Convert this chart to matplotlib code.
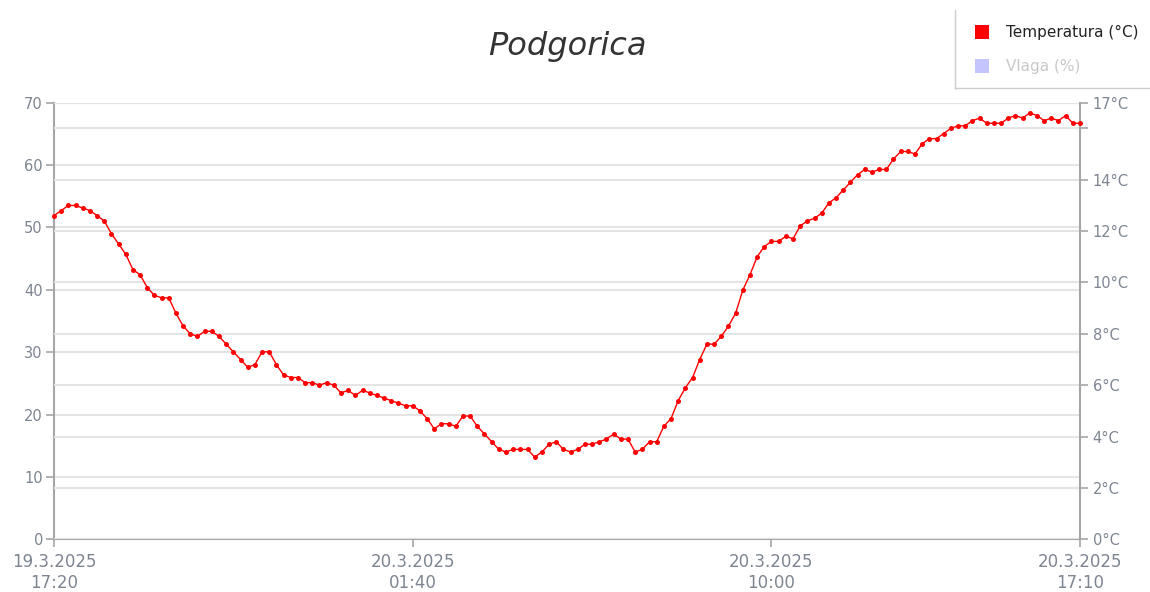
import matplotlib
matplotlib.use("Agg")
import matplotlib.pyplot as plt
from matplotlib.patches import Rectangle
from matplotlib.lines import Line2D
import numpy as np

# ---- data ----
title = "Podgorica"
start_label = "19.3.2025 17:20"
step_minutes = 10
temperature = [
    12.6, 12.8, 13.0, 13.0, 12.9, 12.8, 12.6, 12.4, 11.9, 11.5,
    11.1, 10.5, 10.3, 9.8, 9.5, 9.4, 9.4, 8.8, 8.3, 8.0,
    7.9, 8.1, 8.1, 7.9, 7.6, 7.3, 7.0, 6.7, 6.8, 7.3,
    7.3, 6.8, 6.4, 6.3, 6.3, 6.1, 6.1, 6.0, 6.1, 6.0,
    5.7, 5.8, 5.6, 5.8, 5.7, 5.6, 5.5, 5.4, 5.3, 5.2,
    5.2, 5.0, 4.7, 4.3, 4.5, 4.5, 4.4, 4.8, 4.8, 4.4,
    4.1, 3.8, 3.5, 3.4, 3.5, 3.5, 3.5, 3.2, 3.4, 3.7,
    3.8, 3.5, 3.4, 3.5, 3.7, 3.7, 3.8, 3.9, 4.1, 3.9,
    3.9, 3.4, 3.5, 3.8, 3.8, 4.4, 4.7, 5.4, 5.9, 6.3,
    7.0, 7.6, 7.6, 7.9, 8.3, 8.8, 9.7, 10.3, 11.0, 11.4,
    11.6, 11.6, 11.8, 11.7, 12.2, 12.4, 12.5, 12.7, 13.1, 13.3,
    13.6, 13.9, 14.2, 14.4, 14.3, 14.4, 14.4, 14.8, 15.1, 15.1,
    15.0, 15.4, 15.6, 15.6, 15.8, 16.0, 16.1, 16.1, 16.3, 16.4,
    16.2, 16.2, 16.2, 16.4, 16.5, 16.4, 16.6, 16.5, 16.3, 16.4,
    16.3, 16.5, 16.2, 16.2,
]
x_tick_minutes = [0, 500, 1000, 1430]
x_tick_labels = ["19.3.2025\n17:20", "20.3.2025\n01:40", "20.3.2025\n10:00", "20.3.2025\n17:10"]
left_ticks = [0, 10, 20, 30, 40, 50, 60, 70]
right_ticks = [0, 2, 4, 6, 8, 10, 12, 14, 16, 17]
right_labels = ["0°C", "2°C", "4°C", "6°C", "8°C", "10°C", "12°C", "14°C", "", "17°C"]
legend_labels = ["Temperatura (°C)", "Vlaga (%)"]

# ---- style ----
W, H = 1150, 592
TEMP_COLOR = "#ff0000"
HUM_COLOR = "#c4c4ff"
AXIS_COLOR = "#a6a6a6"
GRID_COLOR = "#e4e4e4"
LABEL_COLOR = "#7d8591"

fig = plt.figure(figsize=(W / 100, H / 100), dpi=100)
x0, x1 = 54, 1080
y_top, y_bot = 102.7, 539.3
ax = fig.add_axes([x0 / W, (H - y_bot) / H, (x1 - x0) / W, (y_bot - y_top) / H])
ax2 = ax.twinx()

minutes = np.arange(len(temperature)) * step_minutes

ax.set_xlim(0, 1430)
ax.set_ylim(0, 70)
ax2.set_ylim(0, 17)

ax.set_yticks(left_ticks)
ax.set_yticklabels([str(v) for v in left_ticks])
ax2.set_yticks(right_ticks)
ax2.set_yticklabels(right_labels)
ax.set_xticks(x_tick_minutes)
ax.set_xticklabels(x_tick_labels)

ax.set_axisbelow(True)
ax2.set_axisbelow(True)
ax.yaxis.grid(True, color=GRID_COLOR, linewidth=1.5)
ax2.yaxis.grid(True, color=GRID_COLOR, linewidth=1.5)
ax.xaxis.grid(False)

ax2.plot(minutes, temperature, color=TEMP_COLOR, linewidth=1.0,
         marker="o", markersize=3.6, markeredgewidth=0, zorder=5, clip_on=False)

for a in (ax, ax2):
    for s in a.spines.values():
        s.set_visible(False)
ax.spines["left"].set_visible(True)
ax.spines["bottom"].set_visible(True)
ax2.spines["right"].set_visible(True)
for s in (ax.spines["left"], ax.spines["bottom"], ax2.spines["right"]):
    s.set_color(AXIS_COLOR)
    s.set_linewidth(1.5)

ax.tick_params(axis="y", length=6, width=1.2, color=AXIS_COLOR, labelcolor=LABEL_COLOR,
               labelsize=10.5, pad=2)
ax.tick_params(axis="x", length=6, width=1.2, color=AXIS_COLOR, labelcolor=LABEL_COLOR,
               labelsize=12, pad=4)
ax2.tick_params(axis="y", length=6, width=1.2, color=AXIS_COLOR, labelcolor=LABEL_COLOR,
                labelsize=10.5, pad=3)

fig.text(567 / W, 1 - 47 / H, title, ha="center", va="center", fontsize=23,
         style="italic", color="#333333")

# legend box (partly cut by the right edge)
fig.add_artist(Line2D([955 / W, 955 / W], [1 - 10 / H, 1 - 88 / H], color="#cccccc",
                      linewidth=1.0, transform=fig.transFigure))
fig.add_artist(Line2D([955 / W, 1.0], [1 - 88 / H, 1 - 88 / H], color="#cccccc",
                      linewidth=1.0, transform=fig.transFigure))
sq = 14
for (cy, col, lab, tcol) in [(32, TEMP_COLOR, legend_labels[0], "#222222"),
                             (66, HUM_COLOR, legend_labels[1], "#c8c8c8")]:
    fig.add_artist(Rectangle(((982 - sq / 2) / W, 1 - (cy + sq / 2) / H), sq / W, sq / H,
                             transform=fig.transFigure, facecolor=col, edgecolor="none"))
    fig.text(1006 / W, 1 - cy / H, lab, ha="left", va="center", fontsize=11, color=tcol)

fig.savefig("out.png", dpi=100)
